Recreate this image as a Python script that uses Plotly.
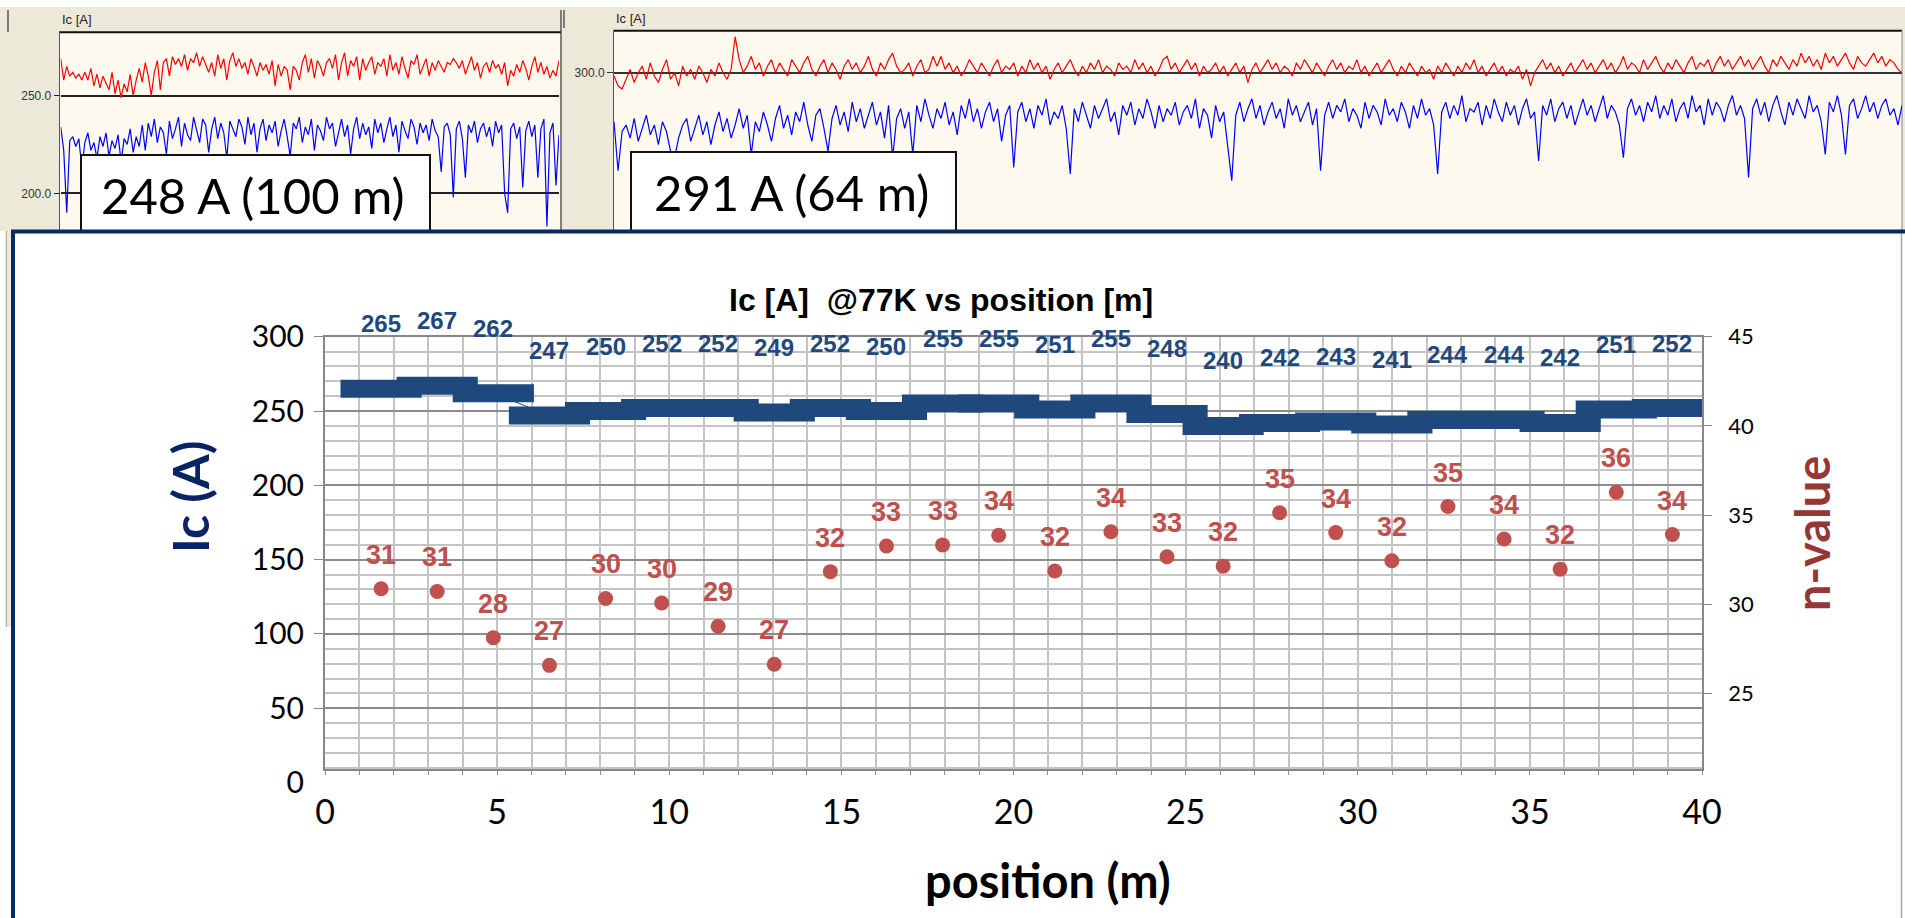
import plotly.graph_objects as go

W, H = 1905, 918

# ---------------- main chart data ----------------
position_m = [1.63, 3.26, 4.89, 6.52, 8.15, 9.78, 11.42, 13.05, 14.68, 16.31, 17.94, 19.57,
              21.20, 22.83, 24.46, 26.09, 27.73, 29.36, 30.99, 32.62, 34.25, 35.88, 37.51, 39.14]
ic_A = [265, 267, 262, 247, 250, 252, 252, 249, 252, 250, 255, 255,
        251, 255, 248, 240, 242, 243, 241, 244, 244, 242, 251, 252]
n_value = [30.87, 30.72, 28.13, 26.58, 30.33, 30.07, 28.77, 26.64, 31.83, 33.27, 33.33, 33.87,
           31.87, 34.07, 32.67, 32.14, 35.13, 34.02, 32.44, 35.48, 33.66, 31.97, 36.28, 33.91]

x_ticks = [0, 5, 10, 15, 20, 25, 30, 35, 40]
ic_ticks = [0, 50, 100, 150, 200, 250, 300]
n_ticks = [25, 30, 35, 40, 45]

# ---------------- raw Ic recordings (top strip) ----------------
tape1_red = [269, 258, 265, 260, 262, 259, 261, 258, 262, 258, 264, 255, 261,
             254, 260, 256, 253, 262, 251, 258, 249, 256, 252, 261, 250, 258,
             264, 257, 267, 260, 250, 262, 268, 253, 267, 269, 260, 270, 266, 269, 265,
             271, 263, 269, 267, 272, 265, 270, 266, 262, 267, 260, 271, 264, 269, 258, 268, 272, 265, 269, 264,
             267, 261, 269, 265, 260, 267, 263, 266, 261, 268, 255, 266, 260, 265, 263, 253, 265, 263, 258, 267,
             271, 262, 269, 259, 268, 265, 260, 267, 269, 264, 271, 258, 267, 272, 260, 268, 265, 270, 258, 269,
             263, 267, 270, 261, 267, 265, 269, 260, 271, 263, 267, 261, 270, 264, 259, 268, 266, 271, 261, 265,
             269, 260, 267, 263, 268, 265, 262, 267, 266, 269, 267, 264, 268, 261, 266, 270, 263, 267, 259, 265,
             267, 262, 268, 264, 266, 261, 267, 255, 263, 260, 266, 262, 268, 264, 258, 265, 270, 262, 267, 261,
             265, 259, 263, 260, 268]
tape1_blue = [234, 222, 190, 227, 229, 224, 228, 213, 226, 231, 222, 226, 218, 229, 224,
              231, 219, 227, 223, 230, 216, 228, 225, 233, 221, 229, 224, 235, 222, 236,
              229, 238, 226, 234, 231, 220, 237, 228, 233, 239, 224, 236, 230, 227, 239,
              232, 226, 238, 235, 221, 233, 239, 228, 236, 231, 218, 237, 233, 229, 238,
              234, 225, 239, 230, 236, 221, 233, 238, 227, 235, 231, 237, 224, 232, 238,
              229, 219, 236, 233, 239, 226, 234, 230, 238, 222, 235, 232, 227, 239, 233,
              236, 224, 231, 238, 229, 235, 220, 233, 239, 228, 236, 230, 234, 223, 238,
              231, 236, 226, 233, 239, 229, 235, 221, 237, 232, 228, 238, 234, 225, 236,
              231, 235, 227, 238, 232, 229, 211, 234, 236, 230, 198, 233, 237, 228, 208,
              235, 231, 237, 226, 233, 236, 229, 234, 224, 237, 231, 235, 200, 190, 233,
              236, 228, 234, 203, 232, 237, 229, 235, 208, 233, 238, 183, 231, 236, 204, 230]
tape2_red = [299, 296, 295, 298, 301, 297, 300, 302, 298, 303, 299, 297, 301, 304, 298, 300, 296, 302, 299, 301,
             298, 302, 300, 297, 301, 299, 303, 300, 298, 301, 311, 304, 300, 302, 305, 301, 303, 299, 302, 304,
             300, 303, 301, 299, 304, 302, 300, 303, 305, 301, 299, 302, 304, 300, 303, 301, 298, 302, 304, 301,
             303, 300, 302, 305, 301, 299, 303, 301, 304, 306, 302, 300, 301, 303, 299, 302, 304, 300, 301, 305,
             302, 305, 301, 303, 300, 302, 299, 301, 304, 302, 300, 303, 301, 299, 302, 304, 300, 302, 301, 303,
             299, 302, 300, 304, 301, 303, 300, 302, 298, 301, 303, 300, 302, 304, 301, 299, 302, 300, 303, 301,
             304, 300, 302, 301, 299, 303, 301, 302, 300, 304, 301, 303, 300, 302, 299, 301, 304, 305, 301, 303,
             300, 302, 304, 301, 303, 299, 302, 300, 301, 303, 300, 302, 299, 301, 303, 300, 302, 297, 301, 303,
             300, 302, 304, 301, 303, 300, 302, 301, 299, 303, 301, 304, 302, 300, 303, 301, 299, 302, 304, 301,
             303, 300, 302, 301, 304, 300, 302, 299, 301, 303, 300, 302, 304, 301, 299, 302, 300, 303, 301, 299,
             302, 300, 301, 298, 302, 300, 303, 301, 299, 302, 300, 303, 301, 304, 300, 302, 299, 301, 303, 300,
             302, 299, 301, 300, 302, 298, 301, 296, 300, 302, 304, 301, 303, 300, 302, 299, 301, 303, 300, 302,
             304, 301, 303, 300, 302, 304, 301, 303, 300, 302, 305, 301, 303, 302, 300, 304, 301, 303, 305, 302,
             300, 303, 301, 304, 302, 300, 303, 305, 301, 303, 302, 304, 300, 303, 305, 302, 304, 301, 303, 305,
             302, 304, 301, 303, 305, 302, 300, 304, 302, 305, 303, 301, 304, 302, 306, 303, 305, 302, 304, 301,
             306, 303, 305, 302, 304, 306, 303, 301, 305, 303, 302, 304, 306, 303, 305, 302, 304, 303, 301, 300]
tape2_blue = [285, 270, 282, 284, 280, 286, 279, 283, 287, 281, 284, 278, 285, 282, 276, 274, 280, 284, 286, 279,
              283, 287, 281, 285, 278, 284, 288, 282, 286, 280, 284, 289, 283, 287, 275, 285, 282, 288, 284, 279,
              286, 290, 283, 287, 281, 288, 285, 291, 284, 279, 287, 289, 283, 276, 286, 290, 284, 288, 282, 291,
              285, 289, 283, 287, 291, 284, 288, 280, 290, 274, 286, 289, 283, 288, 275, 290, 285, 292, 287, 283,
              289, 286, 291, 284, 288, 281, 290, 286, 292, 285, 289, 283, 288, 291, 285, 289, 279, 287, 290, 271,
              288, 291, 285, 289, 283, 290, 287, 292, 284, 288, 286, 290, 283, 269, 289, 285, 291, 287, 283, 290,
              286, 289, 292, 285, 288, 281, 290, 287, 291, 284, 289, 286, 292, 288, 283, 290, 285, 289, 287, 291,
              284, 288, 290, 286, 292, 283, 289, 287, 280, 290, 285, 288, 278, 267, 287, 291, 285, 289, 292, 286,
              290, 284, 288, 291, 286, 289, 283, 292, 287, 290, 285, 288, 291, 284, 289, 270, 287, 291, 286, 290,
              288, 292, 285, 289, 287, 283, 291, 286, 290, 288, 284, 292, 287, 289, 285, 291, 288, 283, 290, 286,
              292, 287, 289, 284, 269, 288, 291, 286, 290, 287, 293, 285, 289, 288, 291, 284, 290, 286, 292, 288,
              285, 291, 287, 290, 284, 289, 292, 286, 288, 273, 290, 287, 292, 285, 289, 291, 286, 290, 284, 288,
              292, 287, 290, 285, 289, 293, 286, 290, 288, 284, 274, 289, 292, 287, 290, 285, 291, 288, 293, 286,
              290, 287, 292, 285, 289, 291, 286, 293, 288, 290, 284, 292, 287, 291, 289, 285, 290, 293, 287, 290,
              286, 268, 289, 292, 287, 291, 285, 290, 293, 288, 284, 291, 287, 292, 289, 286, 293, 288, 290, 285,
              275, 291, 288, 293, 287, 275, 290, 292, 286, 289, 293, 288, 291, 286, 290, 292, 287, 289, 284, 290]
tape1_ticks = [200, 250]
tape2_ticks = [300]
tape_labels = ["248 A (100 m)", "291 A (64 m)"]


def fx(px):
    return px / W


def fy(py):
    return 1 - py / H


IC_BLUE = "#1F497D"
N_RED = "#C0504D"
GRID = "#C4C4C4"
GRID_MAJOR = "#8C8C8C"
AXIS = "#878787"
BEIGE = "#ECE9D8"
CREAM = "#FDF9EE"

fig = go.Figure()

# Ic per segment: thick horizontal dashes joined by a thin line
# (plotly's line-ew symbol is 1.4 x marker size long)
fig.add_trace(go.Scatter(
    x=position_m, y=ic_A, mode="lines+markers", xaxis="x", yaxis="y",
    line=dict(color=IC_BLUE, width=1),
    marker=dict(symbol="line-ew", size=58, color=IC_BLUE,
                line=dict(color=IC_BLUE, width=18)),
    showlegend=False, name="Ic"))

# n-value per segment
fig.add_trace(go.Scatter(
    x=position_m, y=n_value, mode="markers", xaxis="x", yaxis="y2",
    marker=dict(symbol="circle", size=15, color=N_RED),
    showlegend=False, name="n-value"))

# label-only axis carrying the full 0-300 Ic scale
fig.add_trace(go.Scatter(x=[], y=[], xaxis="x3", yaxis="y3", showlegend=False))

# raw recordings in the top strip
fig.add_trace(go.Scatter(x=list(range(len(tape1_red))), y=tape1_red, mode="lines",
                         xaxis="x4", yaxis="y4", line=dict(color="#FF0000", width=1.2), showlegend=False))
fig.add_trace(go.Scatter(x=list(range(len(tape1_blue))), y=tape1_blue, mode="lines",
                         xaxis="x6", yaxis="y4", line=dict(color="#0000FF", width=1.2), showlegend=False))
fig.add_trace(go.Scatter(x=list(range(len(tape2_red))), y=tape2_red, mode="lines",
                         xaxis="x5", yaxis="y5", line=dict(color="#FF0000", width=1.2), showlegend=False))
fig.add_trace(go.Scatter(x=list(range(len(tape2_blue))), y=tape2_blue, mode="lines",
                         xaxis="x7", yaxis="y5", line=dict(color="#0000FF", width=1.2), showlegend=False))

layout_axes = dict(
    xaxis=dict(domain=[fx(325), fx(1702)], range=[0, 40], anchor="y",
               tickvals=x_ticks, showgrid=True, gridcolor=GRID, gridwidth=1.6,
               minor=dict(dtick=1, tick0=0, showgrid=True, gridcolor=GRID, gridwidth=1.6,
                          ticks="outside", ticklen=4, tickcolor=AXIS),
               ticks="outside", ticklen=4, tickcolor=AXIS,
               showline=True, linecolor=AXIS, linewidth=1.6, mirror=True, zeroline=False,
               tickfont=dict(family="Lato", size=34, color="#000000"), ticklabelstandoff=8),
    yaxis=dict(domain=[fy(769), fy(336.7)], range=[9.15, 300], anchor="x",
               tickvals=ic_ticks, showticklabels=False, ticks="outside", ticklen=9,
               tickcolor=AXIS, showgrid=True, gridcolor=GRID_MAJOR, gridwidth=1.6,
               minor=dict(dtick=10, tick0=0, showgrid=True, gridcolor=GRID, gridwidth=1.6),
               showline=True, linecolor=AXIS, linewidth=1.6, zeroline=False),
    yaxis2=dict(overlaying="y", side="right", anchor="x", range=[20.77, 45],
                tickvals=n_ticks, showgrid=False, ticks="outside", ticklen=8, tickcolor=AXIS,
                showline=True, linecolor=AXIS, linewidth=1.6, zeroline=False,
                tickfont=dict(family="Lato", size=22, color="#000000"), ticklabelstandoff=12),
    xaxis3=dict(domain=[fx(325), fx(1702)], range=[0, 40], anchor="y3", visible=False),
    yaxis3=dict(domain=[fy(782.6), fy(336.7)], range=[0, 300], anchor="x3",
                tickvals=ic_ticks, showgrid=False, zeroline=False, showline=False, ticks="",
                tickfont=dict(family="Lato", size=30, color="#000000"), ticklabelstandoff=20),
    xaxis4=dict(domain=[fx(60.7), fx(559)], range=[0, len(tape1_red) - 1], anchor="y4", visible=False),
    xaxis6=dict(domain=[fx(60.7), fx(559)], range=[0, len(tape1_blue) - 1], anchor="y4",
                overlaying="x4", visible=False),
    yaxis4=dict(domain=[fy(231), fy(32.3)], range=[180.69, 282.48], anchor="x4",
                tickvals=tape1_ticks, tickformat=".1f", showgrid=True, gridcolor="#222222",
                gridwidth=1.6, ticks="outside", ticklen=6, tickcolor="#222222",
                showline=False, zeroline=False,
                tickfont=dict(family="Liberation Sans", size=12, color="#333333")),
    xaxis5=dict(domain=[fx(614), fx(1902)], range=[0, len(tape2_red) - 1], anchor="y5", visible=False),
    xaxis7=dict(domain=[fx(614), fx(1902)], range=[0, len(tape2_blue) - 1], anchor="y5",
                overlaying="x5", visible=False),
    yaxis5=dict(domain=[fy(231), fy(30.7)], range=[251.59, 312.84], anchor="x5",
                tickvals=tape2_ticks, tickformat=".1f", showgrid=True, gridcolor="#333333",
                gridwidth=2, ticks="outside", ticklen=6, tickcolor="#333333",
                showline=False, zeroline=False,
                tickfont=dict(family="Liberation Sans", size=12, color="#333333")),
)


def pline(x0, y0, x1, y1, color, width, layer="below"):
    return dict(type="line", xref="paper", yref="paper", x0=fx(x0), x1=fx(x1), y0=fy(y0), y1=fy(y1),
                line=dict(color=color, width=width), layer=layer)


def prect(x0, y0, x1, y1, fill, line=None, layer="below"):
    return dict(type="rect", xref="paper", yref="paper", x0=fx(x0), x1=fx(x1), y0=fy(y1), y1=fy(y0),
                fillcolor=fill, line=line or dict(width=0), layer=layer)


shapes = [
    # window background behind the two recordings
    prect(0, 7, W, 231, BEIGE),
    prect(5, 231, 13, 627, BEIGE),
    pline(6.5, 231, 6.5, 627, "#B8B4A4", 1),
    # recording panels
    prect(59, 32.3, 561, 231, CREAM),
    prect(613.5, 30.7, 1902, 231, CREAM),
    pline(59, 32.3, 561, 32.3, "#111111", 2),
    pline(613.5, 30.7, 1902, 30.7, "#111111", 2),
    pline(59.5, 32.3, 59.5, 231, "#555555", 1),
    pline(561, 10, 561, 231, "#333333", 1.2),
    pline(613.5, 30.7, 613.5, 231, "#555555", 1),
    pline(1902, 30.7, 1902, 231, "#999999", 1.2),
    pline(8, 10, 8, 32, "#333333", 1.2),
    pline(564, 10, 564, 28, "#333333", 1.2),
    # main chart frame
    prect(13, 231.5, 1915, 930, "#FFFFFF"),
    pline(1901.5, 233, 1901.5, 918, "#A6A6A6", 1.5),
    # value boxes over the recordings
    prect(81, 155, 430, 232, "#FFFFFF", dict(color="#111111", width=2), "above"),
    prect(631, 152, 956, 232, "#FFFFFF", dict(color="#111111", width=2), "above"),
    # navy frame border
    prect(13, 231.5, 1915, 930, "rgba(0,0,0,0)", dict(color="#0B2A62", width=4), "above"),
]

annotations = []
# Ic labels above each dash
for xp, v in zip(position_m, ic_A):
    annotations.append(dict(x=xp, y=v, xref="x", yref="y", text=f"{v:.0f}", showarrow=False,
                            xanchor="center", yanchor="middle", yshift=65,
                            font=dict(family="Liberation Sans", size=24, color=IC_BLUE, weight="bold")))
# n-value labels above each dot
for xp, v in zip(position_m, n_value):
    annotations.append(dict(x=xp, y=v, xref="x", yref="y2", text=f"{v:.0f}", showarrow=False,
                            xanchor="center", yanchor="middle", yshift=34,
                            font=dict(family="Liberation Sans", size=27, color=N_RED, weight="bold")))


def ptext(x, y, text, font, angle=0, xanchor="center"):
    return dict(x=fx(x), y=fy(y), xref="paper", yref="paper", text=text, showarrow=False,
                xanchor=xanchor, yanchor="middle", textangle=angle, font=font)


annotations += [
    ptext(941, 300, "Ic [A]  @77K vs position [m]",
          dict(family="Liberation Sans", size=32, color="#000000", weight="bold")),
    ptext(190, 497, "Ic (A)", dict(family="Lato", size=50, color="#0A2364", weight="bold"), angle=-90),
    ptext(1812, 534, "n-value", dict(family="Lato", size=47, color="#953735", weight="bold"), angle=-90),
    ptext(1047.5, 880, "position (m)", dict(family="Lato", size=47, color="#000000", weight="bold")),
    ptext(60, 20, "Ic [A]", dict(family="Liberation Sans", size=13, color="#222222"), xanchor="left"),
    ptext(614, 18, "Ic [A]", dict(family="Liberation Sans", size=13, color="#222222"), xanchor="left"),
    ptext(252.5, 195, tape_labels[0], dict(family="Lato", size=49, color="#000000")),
    ptext(791, 192, tape_labels[1], dict(family="Lato", size=49, color="#000000")),
]

fig.update_layout(
    width=W, height=H, margin=dict(l=0, r=0, t=0, b=0, autoexpand=False),
    paper_bgcolor="#FFFFFF", plot_bgcolor="rgba(0,0,0,0)",
    showlegend=False, shapes=shapes, annotations=annotations,
    **layout_axes,
)

fig.write_html("out.html", config={"displayModeBar": False})
